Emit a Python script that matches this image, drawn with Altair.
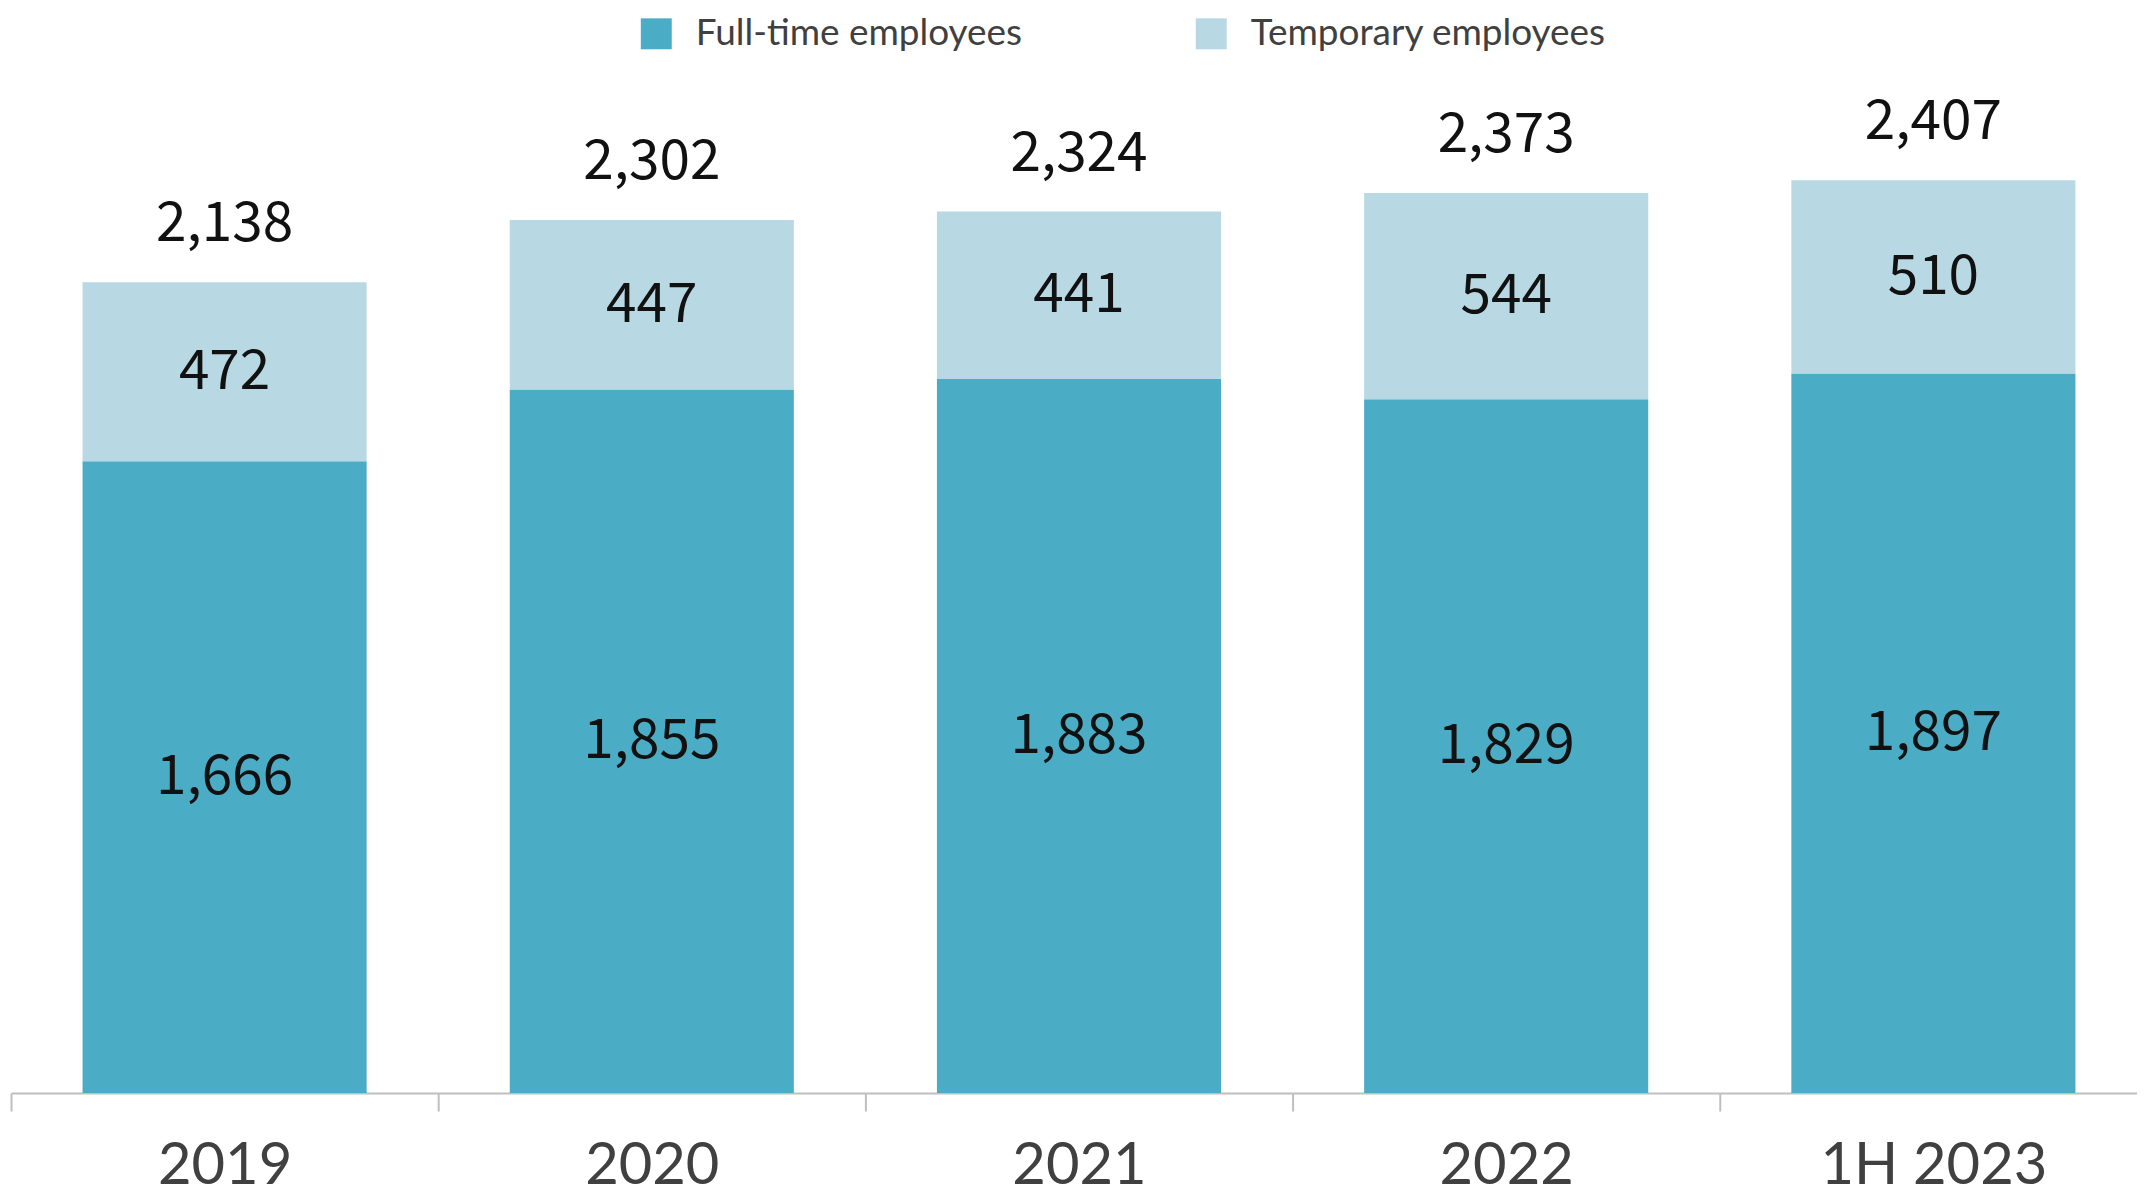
import altair as alt
import pandas as pd

years = ["2019", "2020", "2021", "2022", "1H 2023"]
full_time = [1666, 1855, 1883, 1829, 1897]
temporary = [472, 447, 441, 544, 510]
totals = [2138, 2302, 2324, 2373, 2407]
series = ["Full-time employees", "Temporary employees"]
colors = ["#4BACC6", "#B8D8E4"]

rows = []
for i, y in enumerate(years):
    rows.append({"year": y, "type": series[0], "idx": 0, "value": full_time[i]})
    rows.append({"year": y, "type": series[1], "idx": 1, "value": temporary[i]})
df = pd.DataFrame(rows)
tot = pd.DataFrame({"year": years, "total": totals})

x_enc = alt.X(
    "year:N",
    sort=years,
    scale=alt.Scale(paddingInner=0, paddingOuter=0),
    axis=alt.Axis(
        title=None, labelAngle=0, tickBand="extent", ticks=True, tickSize=18,
        tickColor="#BFBFBF", tickWidth=2, domainColor="#BFBFBF", domainWidth=2,
        labelFont="Lato", labelFontSize=58, labelColor="#404040", labelPadding=27,
        labelLimit=1000, grid=False,
    ),
)
y_scale = alt.Scale(domain=[0, 2600])

base = alt.Chart(df).transform_stack(
    stack="value", groupby=["year"], as_=["y0", "y1"],
    sort=[alt.SortField("idx", order="ascending")],
).transform_calculate(mid="(datum.y0 + datum.y1) / 2")

bars = base.mark_bar(width=alt.RelativeBandSize(0.665)).encode(
    x=x_enc,
    y=alt.Y("y0:Q", scale=y_scale, axis=None),
    y2="y1:Q",
    color=alt.Color(
        "type:N",
        scale=alt.Scale(domain=series, range=colors),
        legend=alt.Legend(
            title=None, orient="none", legendX=628, legendY=-92,
            direction="horizontal", symbolType="square", symbolSize=961,
            symbolStrokeWidth=0, labelFont="Lato", labelFontSize=37,
            labelColor="#404040", labelOffset=21, columnPadding=170,
            labelLimit=1000,
        ),
    ),
)

inner = base.mark_text(
    font="Noto Sans CJK JP", fontSize=55, color="#111111", baseline="middle"
).encode(
    x=alt.X("year:N", sort=years),
    y=alt.Y("mid:Q", scale=y_scale),
    text=alt.Text("value:Q", format=","),
)

top = alt.Chart(tot).mark_text(
    font="Noto Sans CJK JP", fontSize=55, color="#111111", baseline="middle", dy=-58
).encode(
    x=alt.X("year:N", sort=years),
    y=alt.Y("total:Q", scale=y_scale),
    text=alt.Text("total:Q", format=","),
)

chart = alt.layer(bars, inner, top).properties(
    width=2140, height=988,
    autosize=alt.AutoSizeParams(type="none"),
    padding={"left": 3, "top": 98, "right": -10, "bottom": 98},
).configure(background="white").configure_view(stroke=None, strokeWidth=0)

chart.save("out.html", embed_options={"renderer": "svg", "actions": False})
